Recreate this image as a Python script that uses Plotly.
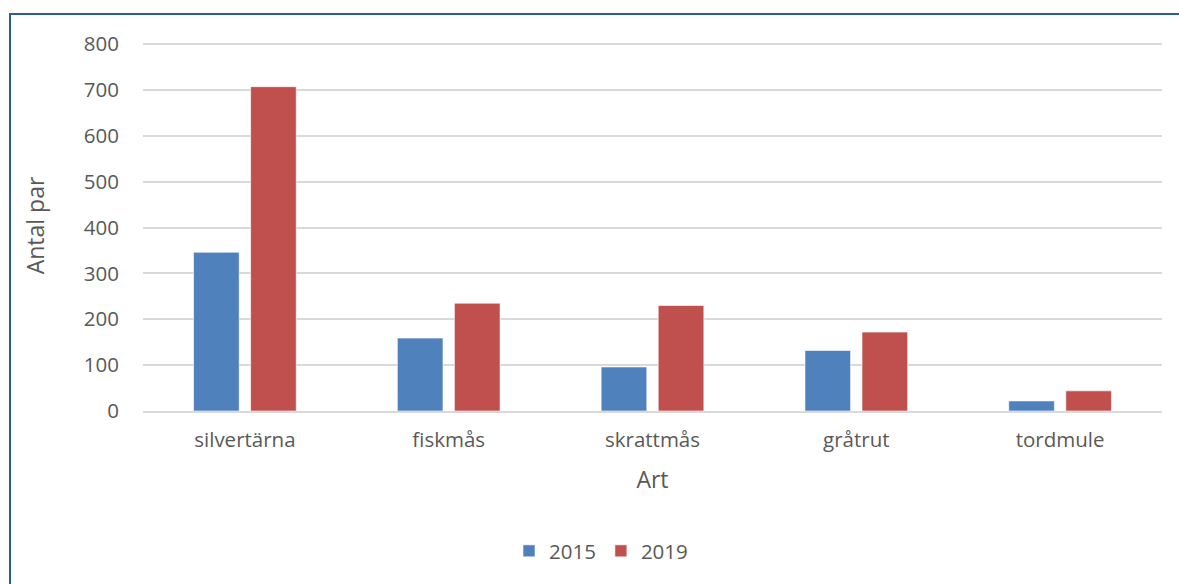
import plotly.graph_objects as go

categories = ["silvertärna", "fiskmås", "skrattmås", "gråtrut", "tordmule"]
values_2015 = [346, 159, 96, 132, 22]
values_2019 = [707, 235, 230, 172, 44]
series_names = ["2015", "2019"]
colors = ["#4F81BD", "#C0504D"]

FONT = "Open Sans"
GRAY = "#595959"

fig = go.Figure()
for name, vals, col in zip(series_names, [values_2015, values_2019], colors):
    fig.add_trace(go.Bar(
        x=categories, y=vals, name=name,
        marker=dict(color=col, line=dict(color="rgba(255,255,255,0.6)", width=1)),
    ))

W, H = 1179, 584
y0_px, y800_px = 411, 44
L, R, T, B = 143, 17, 40, H - y0_px
pw = W - L - R
ph = H - T - B
ymax = (y0_px - T) / (y0_px - y800_px) * 800

def px(x):
    return (x - L) / pw

def py(y):
    return (H - B - y) / ph

fig.update_layout(
    width=W, height=H,
    margin=dict(l=L, r=R, t=T, b=B),
    paper_bgcolor="white", plot_bgcolor="white",
    barmode="group", bargap=0.44, bargroupgap=0.2,
    font=dict(family=FONT, size=20.5, color=GRAY),
    xaxis=dict(
        title=dict(text="Art", font=dict(size=23, color=GRAY), standoff=20),
        showgrid=False, showline=True, linecolor="#D9D9D9", linewidth=1.5,
        ticks="", tickfont=dict(size=20.5, color=GRAY), ticklabelstandoff=10,
    ),
    yaxis=dict(
        title=dict(text="Antal par", font=dict(size=23, color=GRAY), standoff=32),
        range=[0, ymax], tickvals=[0, 100, 200, 300, 400, 500, 600, 700, 800],
        showgrid=True, gridcolor="#D9D9D9", gridwidth=1.5,
        zeroline=False, ticks="", tickfont=dict(size=20.5, color=GRAY),
        ticklabelstandoff=23,
    ),
    legend=dict(orientation="h", x=px(601), xanchor="center", y=py(551), yanchor="middle",
                font=dict(size=20.5, color=GRAY), itemwidth=30, traceorder="normal"),
    showlegend=True,
    shapes=[dict(type="rect", xref="paper", yref="paper",
                 x0=px(10), x1=px(1200), y0=py(600), y1=py(14),
                 line=dict(color="#2F5C8F", width=2), fillcolor="rgba(0,0,0,0)", layer="below")],
)

fig.write_html("out.html")
